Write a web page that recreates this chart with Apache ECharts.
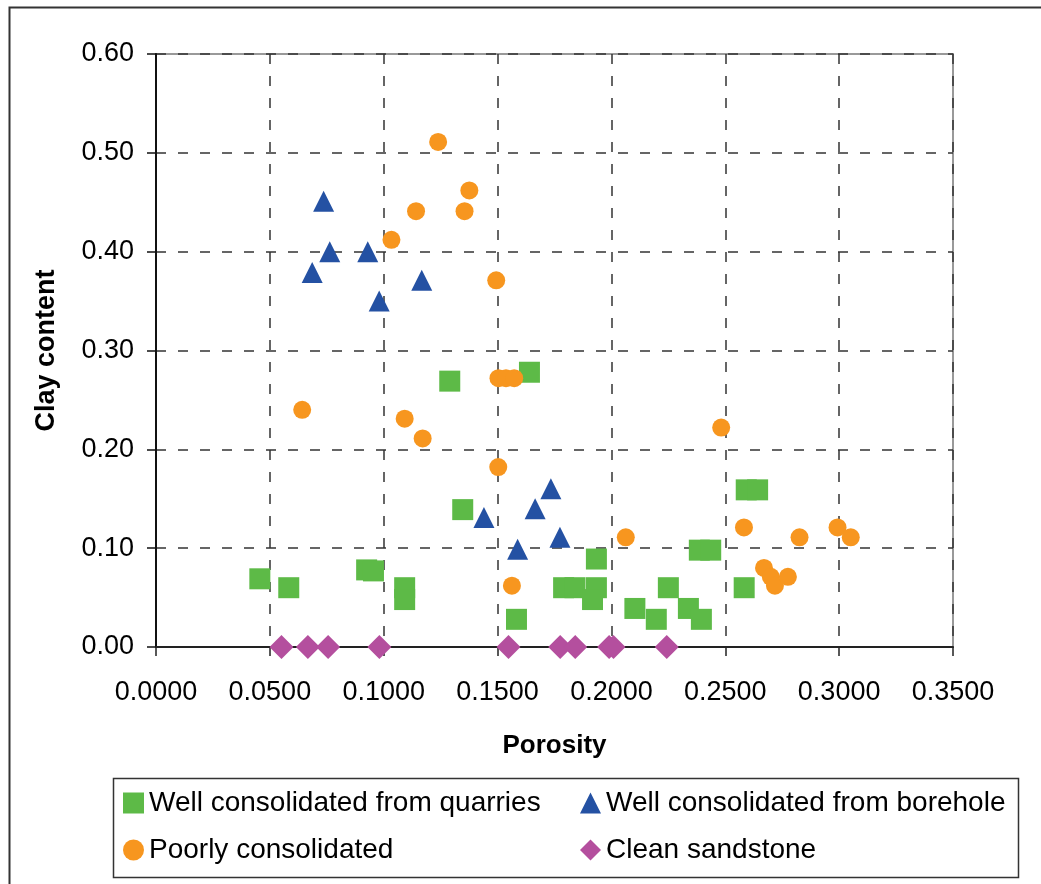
<!DOCTYPE html>
<html>
<head>
<meta charset="utf-8">
<title>Clay content vs porosity</title>
<script src="https://cdn.jsdelivr.net/npm/echarts@6/dist/echarts.min.js"></script>
<style>
  html, body { margin: 0; padding: 0; background: #fff; }
  #main { width: 1041px; height: 884px; }
</style>
</head>
<body>
<div id="main"></div>
<script>
// [porosity, clay content]
const quarries = [
  [0.0456, 0.069], [0.0583, 0.060], [0.0925, 0.078], [0.0955, 0.077],
  [0.1092, 0.060], [0.1092, 0.048], [0.1290, 0.269], [0.1640, 0.278],
  [0.1347, 0.139], [0.1583, 0.028], [0.2592, 0.159], [0.2642, 0.159],
  [0.1934, 0.089], [0.1790, 0.060], [0.1840, 0.060], [0.1934, 0.060],
  [0.1917, 0.048], [0.2103, 0.039], [0.2197, 0.028], [0.2250, 0.060],
  [0.2338, 0.039], [0.2395, 0.028], [0.2386, 0.098], [0.2436, 0.098],
  [0.2583, 0.060]
]
const borehole = [
  [0.0736, 0.451], [0.0763, 0.400], [0.0930, 0.400], [0.0686, 0.379],
  [0.1167, 0.371], [0.0980, 0.350], [0.1440, 0.131], [0.1665, 0.140],
  [0.1588, 0.099], [0.1734, 0.160], [0.1774, 0.111]
]
const poorly = [
  [0.1239, 0.511], [0.1376, 0.462], [0.1142, 0.441], [0.1355, 0.441],
  [0.1034, 0.412], [0.1494, 0.371], [0.0642, 0.240], [0.1092, 0.231],
  [0.1171, 0.211], [0.1503, 0.182], [0.1504, 0.272], [0.1537, 0.272],
  [0.1573, 0.272], [0.1563, 0.062], [0.2482, 0.222], [0.2063, 0.111],
  [0.2582, 0.121], [0.2826, 0.111], [0.2993, 0.121], [0.3051, 0.111],
  [0.2670, 0.080], [0.2700, 0.071], [0.2718, 0.062], [0.2775, 0.071]
]
const cleanPorosity = [0.0551, 0.0667, 0.0756, 0.0981, 0.1548, 0.1775, 0.1841, 0.1990, 0.2009, 0.2243]
const cleanClay = [0, 0, 0, 0, 0, 0, 0, 0, 0, 0]

const seriesNames = ['Well consolidated from quarries', 'Well consolidated from borehole', 'Poorly consolidated', 'Clean sandstone']

let font = '"Liberation Sans", Arial, sans-serif'
let gridLine = { show: true, lineStyle: { color: '#333', width: 1.5, type: [10, 12] } }
let legendText = { fontFamily: font, fontSize: 28, lineHeight: 28, color: '#000' }

let option = {
  animation: false,
  textStyle: { fontFamily: font },
  grid: {
    left: 156, top: 54, right: 88, bottom: 237,
    show: true, borderColor: '#999', borderWidth: 2
  },
  xAxis: {
    type: 'value',
    min: 0, max: 0.35, interval: 0.05,
    name: 'Porosity',
    nameLocation: 'middle',
    nameGap: 86,
    nameTextStyle: { fontFamily: font, fontSize: 26, fontWeight: 'bold', color: '#000' },
    axisLine: { show: true, onZero: false, lineStyle: { color: '#222', width: 2 } },
    axisTick: { show: true, inside: false, length: 9, lineStyle: { color: '#222', width: 1.5 } },
    axisLabel: { fontFamily: font, fontSize: 27, color: '#000', margin: 32, formatter: v => v.toFixed(4) },
    splitLine: gridLine
  },
  yAxis: {
    type: 'value',
    min: 0, max: 0.6, interval: 0.1,
    name: 'Clay content',
    nameLocation: 'middle',
    nameGap: 96,
    nameTextStyle: { fontFamily: font, fontSize: 27, fontWeight: 'bold', color: '#000' },
    axisLine: { show: true, lineStyle: { color: '#111', width: 2 } },
    axisTick: { show: true, inside: false, length: 9, lineStyle: { color: '#111', width: 1.5 } },
    axisLabel: { fontFamily: font, fontSize: 27, color: '#000', margin: 22, formatter: v => v.toFixed(2) },
    splitLine: gridLine
  },
  legend: [
    {
      data: [
        { name: seriesNames[0], icon: 'rect' },
        { name: seriesNames[2], icon: 'circle' }
      ],
      orient: 'vertical', left: 123, top: 789, padding: 0,
      itemWidth: 21, itemHeight: 21, itemGap: 19,
      textStyle: legendText
    },
    {
      data: [
        { name: seriesNames[1], icon: 'triangle' },
        { name: seriesNames[3], icon: 'diamond' }
      ],
      orient: 'vertical', left: 580, top: 789, padding: 0,
      itemWidth: 21, itemHeight: 21, itemGap: 19,
      textStyle: legendText
    }
  ],
  graphic: [
    // outer chart frame
    { type: 'rect', left: 7, top: 5, shape: { width: 1100, height: 900 },
      style: { fill: 'none', stroke: '#333', lineWidth: 2 }, silent: true },
    // legend frame
    { type: 'rect', left: 111, top: 776, shape: { width: 905, height: 99 },
      style: { fill: 'none', stroke: '#333', lineWidth: 1.5 }, silent: true }
  ],
  series: [
    {
      name: seriesNames[0], type: 'scatter', symbol: 'rect', symbolSize: 21,
      itemStyle: { color: '#5dba47', opacity: 1 }, data: quarries
    },
    {
      name: seriesNames[1], type: 'scatter', symbol: 'triangle', symbolSize: [21, 21],
      itemStyle: { color: '#2451a3', opacity: 1 }, data: borehole
    },
    {
      name: seriesNames[2], type: 'scatter', symbol: 'circle', symbolSize: 18,
      itemStyle: { color: '#f7961f', opacity: 1 }, data: poorly
    },
    {
      name: seriesNames[3], type: 'scatter', symbol: 'diamond', symbolSize: [24, 24],
      itemStyle: { color: '#b44f9e', opacity: 1 },
      data: cleanPorosity.map((x, i) => [x, cleanClay[i]])
    }
  ]
}

let myChart = echarts.init(document.getElementById('main'))
myChart.setOption(option)
</script>
</body>
</html>
